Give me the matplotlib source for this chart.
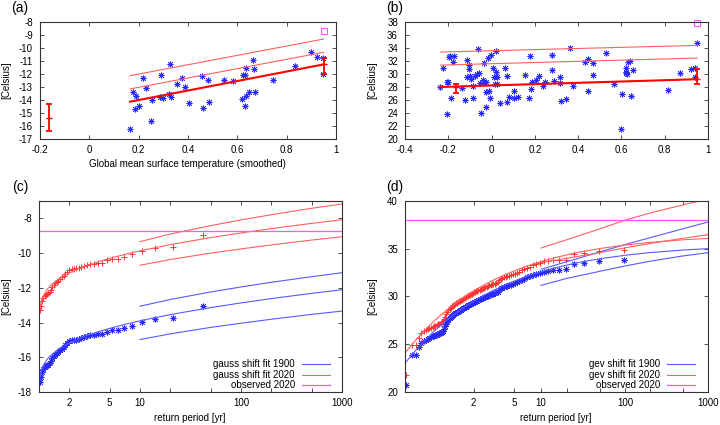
import numpy as np
import matplotlib.pyplot as plt
from matplotlib import ticker

plt.rcParams['font.family'] = ['Liberation Sans', 'DejaVu Sans']
plt.rcParams['font.size'] = 7
plt.rcParams['axes.unicode_minus'] = False

# ---- (a) scatter vs global mean temperature ----
gmst_a = [0.163, 0.177, 0.191, 0.187, 0.200, 0.218, 0.229, 0.250, 0.255, 0.291, 0.288,
          0.300, 0.329, 0.324, 0.333, 0.355, 0.376, 0.386, 0.406, 0.457, 0.461, 0.482,
          0.486, 0.545, 0.582, 0.617, 0.623, 0.631, 0.635, 0.635, 0.633, 0.648, 0.662,
          0.667, 0.671, 0.744, 0.834, 0.897, 0.923, 0.946, 0.946]
temp_a = [-16.2, -13.41, -13.67, -14.69, -14.44, -12.33, -13.10, -15.64, -14.03, -12.1, -13.74,
          -13.82, -11.23, -13.56, -13.74, -12.77, -12.33, -13.0, -14.26, -12.13, -14.59, -12.46,
          -14.13, -12.46, -12.54, -13.95, -12.05, -12.05, -11.51, -13.67, -14.44, -13.36, -10.92,
          -11.62, -13.41, -12.46, -11.38, -10.33, -10.69, -10.77, -11.97]
fit_x_a = [0.165, 0.95]
fit_mu_a = [-14.13, -11.26]
fit_s1_a = [-13.15, -10.33]
fit_s2_a = [-12.13, -9.31]
err_x_a = [-0.165, 0.95]
err_mid_a = [-15.35, -11.26]
err_lo_a = [-16.36, -12.02]
err_hi_a = [-14.33, -10.75]
obs_x_a, obs_y_a = 0.95, -8.72

# ---- (b) scatter vs global mean temperature ----
gmst_b = [-0.238, -0.223, -0.207, -0.207, -0.201, -0.196, -0.189, -0.180, -0.172, -0.135,
          -0.121, -0.112, -0.112, -0.104, -0.104, -0.101, -0.095, -0.087, -0.084, -0.076,
          -0.069, -0.062, -0.059, -0.054, -0.047, -0.039, -0.036, -0.033, -0.028, -0.024,
          -0.024, -0.015, -0.013, -0.007, -0.004, 0.007, 0.012, 0.015, 0.019, 0.021,
          0.026, 0.024, 0.039, 0.063, 0.069, 0.070, 0.081, 0.103, 0.104, 0.124,
          0.155, 0.171, 0.178, 0.180, 0.189, 0.205, 0.217, 0.238, 0.245, 0.277,
          0.279, 0.288, 0.314, 0.317, 0.322, 0.343, 0.363, 0.374, 0.431, 0.447,
          0.445, 0.467, 0.470, 0.528, 0.564, 0.601, 0.599, 0.620, 0.623, 0.626,
          0.619, 0.630, 0.640, 0.644, 0.653, 0.813, 0.871, 0.920, 0.940, 0.950,
          0.940, -0.190]
temp_b = [28.0, 30.92, 23.85, 28.82, 28.7, 32.6, 26.3, 31.85, 32.82, 27.9,
          25.95, 32.15, 29.5, 31.4, 30.7, 29.7, 29.3, 28.2, 26.36, 29.7,
          29.95, 33.8, 30.2, 28.6, 24.0, 29.13, 31.7, 28.67, 27.18, 28.82,
          24.92, 32.4, 27.4, 26.25, 32.9, 30.9, 29.5, 28.4, 33.5, 30.25,
          29.6, 28.4, 25.6, 30.9, 25.75, 29.7, 26.4, 27.4, 26.25, 26.4,
          29.85, 26.25, 32.7, 27.7, 28.82, 29.13, 29.64, 28.2, 28.82, 30.67,
          33.0, 28.97, 29.6, 28.56, 25.8, 26.15, 34.0, 28.15, 31.8, 32.3,
          27.38, 31.64, 29.85, 33.18, 28.4, 26.87, 21.5, 30.36, 30.2, 30.05,
          31.0, 31.85, 31.95, 26.6, 30.67, 27.5, 30.1, 30.8, 31.0, 34.8,
          29.6, 32.7]
fit_x_b = [-0.235, 0.95]
fit_mu_b = [28.0, 29.2]
fit_s1_b = [31.37, 32.45]
fit_s2_b = [33.38, 34.4]
err_x_b = [-0.165, 0.95]
err_mid_b = [27.95, 29.18]
err_lo_b = [27.03, 28.46]
err_hi_b = [28.42, 30.82]
obs_x_b, obs_y_b = 0.95, 37.9

# ---- (c) return periods, gauss fit ----
period_c = [1.024, 1.05, 1.077, 1.105, 1.135, 1.167, 1.2, 1.235, 1.273, 1.312, 1.355,
            1.4, 1.448, 1.5, 1.556, 1.615, 1.68, 1.75, 1.826, 1.909, 2.0, 2.1, 2.211,
            2.333, 2.471, 2.625, 2.8, 3.0, 3.231, 3.5, 3.818, 4.2, 4.667, 5.25, 6.0,
            7.0, 8.4, 10.5, 14.0, 21.0, 42.0]
obs1900_c = [-17.4, -17.15, -16.85, -16.7, -16.55, -16.5, -16.45, -16.42, -16.35, -16.2,
             -16.05, -15.95, -15.85, -15.75, -15.7, -15.6, -15.5, -15.4, -15.3, -15.2,
             -15.05, -15.03, -15.0, -14.98, -14.93, -14.9, -14.85, -14.8, -14.72, -14.7,
             -14.68, -14.65, -14.52, -14.45, -14.42, -14.31, -14.18, -13.97, -13.8, -13.74,
             -13.05]
obs2020_c = [-13.3, -13.05, -12.75, -12.6, -12.45, -12.4, -12.35, -12.3, -12.25, -12.1,
             -11.95, -11.85, -11.75, -11.65, -11.6, -11.5, -11.4, -11.3, -11.2, -11.1,
             -10.95, -10.93, -10.9, -10.88, -10.83, -10.8, -10.75, -10.7, -10.62, -10.6,
             -10.58, -10.55, -10.42, -10.35, -10.32, -10.21, -10.08, -9.87, -9.7, -9.64,
             -8.95]
fit_T_c = [1.02, 1.05, 1.1, 1.2, 1.3, 1.5, 1.7, 2, 2.5, 3, 4, 5, 7, 10, 20, 50, 100, 200, 500, 1000]
fit1900_c = [-17.21, -16.82, -16.49, -16.13, -15.90, -15.60, -15.39, -15.17, -14.92, -14.74,
             -14.50, -14.34, -14.11, -13.90, -13.54, -13.14, -12.87, -12.62, -12.32, -12.11]
fit2020_c = [-13.18, -12.79, -12.46, -12.10, -11.87, -11.57, -11.36, -11.14, -10.89, -10.71,
             -10.47, -10.31, -10.08, -9.87, -9.51, -9.11, -8.84, -8.59, -8.29, -8.08]
bound_T = [10, 20, 50, 100, 200, 500, 1000]
hi1900_c = [-13.06, -12.67, -12.24, -11.95, -11.68, -11.36, -11.13]
lo1900_c = [-14.98, -14.65, -14.28, -14.04, -13.81, -13.53, -13.34]
hi2020_c = [-9.34, -8.90, -8.42, -8.09, -7.79, -7.42, -7.17]
lo2020_c = [-10.70, -10.37, -10.00, -9.76, -9.53, -9.25, -9.06]
observed_c = -8.72

# ---- (d) return periods, gev fit ----
period_d = [1.0104, 1.0211, 1.0319, 1.043, 1.0543, 1.0659, 1.0778, 1.0899, 1.1023, 1.1149,
            1.1279, 1.1412, 1.1548, 1.1687, 1.1829, 1.1975, 1.2125, 1.2278, 1.2436, 1.2597,
            1.2763, 1.2933, 1.3108, 1.3288, 1.3472, 1.3662, 1.3857, 1.4058, 1.4265, 1.4478,
            1.4697, 1.4923, 1.5156, 1.5397, 1.5645, 1.5902, 1.6167, 1.6441, 1.6724, 1.7018,
            1.7321, 1.7636, 1.7963, 1.8302, 1.8654, 1.902, 1.94, 1.9796, 2.0208, 2.0638,
            2.1087, 2.1556, 2.2045, 2.2558, 2.3095, 2.3659, 2.425, 2.4872, 2.5526, 2.6216,
            2.6944, 2.7714, 2.8529, 2.9394, 3.0313, 3.129, 3.2333, 3.3448, 3.4643, 3.5926,
            3.7308, 3.88, 4.0417, 4.2174, 4.4091, 4.619, 4.85, 5.1053, 5.3889, 5.7059,
            6.0625, 6.4667, 6.9286, 7.4615, 8.0833, 8.8182, 9.7, 10.778, 12.125, 13.857,
            16.167, 19.4, 24.25, 32.333, 48.5, 97.0]
obs1900_d = [20.75, 23.9, 23.9, 24.7, 25.15, 25.35, 25.48, 25.58, 25.67, 25.74,
             25.82, 25.9, 25.96, 26.02, 26.08, 26.13, 26.2, 26.28, 26.4, 26.62,
             26.86, 27.12, 27.38, 27.57, 27.7, 27.84, 27.98, 28.08, 28.15, 28.22,
             28.28, 28.35, 28.42, 28.49, 28.55, 28.62, 28.68, 28.75, 28.82, 28.88,
             28.95, 29.01, 29.08, 29.15, 29.2, 29.26, 29.31, 29.37, 29.42, 29.47,
             29.53, 29.58, 29.64, 29.7, 29.75, 29.8, 29.86, 29.92, 29.98, 30.04,
             30.1, 30.16, 30.21, 30.26, 30.31, 30.36, 30.42, 30.52, 30.68, 30.84,
             30.94, 31.0, 31.06, 31.12, 31.18, 31.25, 31.32, 31.38, 31.49, 31.6,
             31.73, 31.86, 31.99, 32.13, 32.25, 32.38, 32.5, 32.57, 32.7, 32.74,
             32.8, 32.88, 33.43, 33.47, 33.75, 33.82]
obs2020_d = [21.8, 24.9, 24.9, 25.7, 26.15, 26.35, 26.48, 26.58, 26.67, 26.74,
             26.82, 26.9, 26.96, 27.02, 27.08, 27.13, 27.2, 27.28, 27.4, 27.62,
             27.86, 28.12, 28.38, 28.57, 28.7, 28.84, 28.98, 29.08, 29.15, 29.22,
             29.28, 29.35, 29.42, 29.49, 29.55, 29.62, 29.68, 29.75, 29.82, 29.88,
             29.95, 30.01, 30.08, 30.15, 30.2, 30.26, 30.31, 30.37, 30.42, 30.47,
             30.53, 30.58, 30.64, 30.7, 30.75, 30.8, 30.86, 30.92, 30.98, 31.04,
             31.1, 31.16, 31.21, 31.26, 31.31, 31.36, 31.42, 31.52, 31.68, 31.84,
             31.94, 32.0, 32.06, 32.12, 32.18, 32.25, 32.32, 32.38, 32.49, 32.6,
             32.73, 32.86, 32.99, 33.13, 33.25, 33.38, 33.5, 33.68, 33.75, 33.79,
             33.82, 33.86, 34.45, 34.52, 34.73, 34.84]
fit_T_d = [1.0104, 1.02, 1.04, 1.07, 1.1, 1.15, 1.2, 1.3, 1.4, 1.6, 1.8, 2, 2.5, 3, 4, 5,
           7, 10, 15, 20, 30, 50, 100, 200, 500, 1000]
fit1900_d = [23.13, 23.83, 24.64, 25.36, 25.85, 26.43, 26.87, 27.51, 27.98, 28.65, 29.13,
             29.51, 30.17, 30.62, 31.22, 31.62, 32.13, 32.59, 33.03, 33.29, 33.62, 33.96,
             34.32, 34.60, 34.87, 35.01]
fit2020_d = [24.20, 24.90, 25.71, 26.43, 26.92, 27.50, 27.94, 28.58, 29.05, 29.72, 30.20,
             30.58, 31.24, 31.69, 32.29, 32.69, 33.20, 33.66, 34.10, 34.36, 34.69, 35.03,
             35.39, 35.67, 35.94, 36.08]
hi1900_d = [32.85, 33.65, 34.68, 35.45, 36.16, 37.1, 37.8]
lo1900_d = [31.17, 31.9, 32.65, 33.2, 33.7, 34.25, 34.59]
hi2020_d = [35.08, 35.95, 37.1, 38.0, 38.75, 39.6, 40.2]
lo2020_d = [33.55, 34.0, 34.6, 35.1, 35.55, 36.1, 36.47]
observed_d = 38.0

BLUE = '#2a2aff'
RED = '#ff0000'
PRED = '#ff3333'
LRED = '#ff6060'
LBLUE = '#5a5aff'
MAG = '#ff55ff'
ASTER = (8, 2, 0)

W, H = 720, 425


def box(l, t, r, b):
    return [l / W, 1 - b / H, (r - l) / W, (b - t) / H]


def style(ax):
    ax.tick_params(which='both', direction='in', top=True, right=True, length=3,
                   width=0.6, labelsize=7, color='#333333')
    ax.tick_params(axis='x', pad=4)
    ax.tick_params(axis='y', pad=5)
    for s in ax.spines.values():
        s.set_linewidth(0.8)
        s.set_color('#333333')


def gumbel(t):
    t = np.asarray(t, dtype=float)
    with np.errstate(all='ignore'):
        return -np.log(-np.log(1.0 - 1.0 / t))


def gumbel_inv(u):
    u = np.asarray(u, dtype=float)
    with np.errstate(all='ignore'):
        return 1.0 / (1.0 - np.exp(-np.exp(-u)))


fmt = ticker.FuncFormatter(lambda v, p: f'{round(v, 6):g}')

fig = plt.figure(figsize=(7.2, 4.25), dpi=100)

# (a)
ax = fig.add_axes(box(40, 22, 336, 139))
style(ax)
ax.plot(gmst_a, temp_a, ls='none', marker=ASTER, ms=4.2, mew=0.6, color=BLUE)
ax.plot(fit_x_a, fit_mu_a, color=RED, lw=1.5)
ax.plot(fit_x_a, fit_s1_a, color=LRED, lw=0.8)
ax.plot(fit_x_a, fit_s2_a, color=LRED, lw=0.8)
ax.errorbar(err_x_a, err_mid_a,
            yerr=[np.subtract(err_mid_a, err_lo_a), np.subtract(err_hi_a, err_mid_a)],
            fmt='_', color=RED, ms=5, elinewidth=1.3, capsize=2.5, capthick=1.3)
ax.plot(obs_x_a, obs_y_a, ls='none', marker='s', ms=4, mfc='none', mec=MAG, mew=0.8,
        clip_on=False)
ax.set_xlim(-0.2, 1)
ax.set_ylim(-17, -8)
ax.set_xticks(np.arange(-0.2, 1.01, 0.2))
ax.set_yticks(range(-17, -7))
ax.xaxis.set_major_formatter(fmt)
fig.text(187 / W, 1 - 164 / H, 'Global mean surface temperature (smoothed)',
         ha='center', va='center', fontsize=7)

# (b)
ax = fig.add_axes(box(405, 22, 708, 139))
style(ax)
ax.plot(gmst_b, temp_b, ls='none', marker=ASTER, ms=4.2, mew=0.6, color=BLUE)
ax.plot(fit_x_b, fit_mu_b, color=RED, lw=1.5)
ax.plot(fit_x_b, fit_s1_b, color=LRED, lw=0.8)
ax.plot(fit_x_b, fit_s2_b, color=LRED, lw=0.8)
ax.errorbar(err_x_b, err_mid_b,
            yerr=[np.subtract(err_mid_b, err_lo_b), np.subtract(err_hi_b, err_mid_b)],
            fmt='_', color=RED, ms=5, elinewidth=1.3, capsize=2.5, capthick=1.3)
ax.plot(obs_x_b, obs_y_b, ls='none', marker='s', ms=4, mfc='none', mec=MAG, mew=0.8,
        clip_on=False)
ax.set_xlim(-0.4, 1)
ax.set_ylim(20, 38)
ax.set_xticks(np.arange(-0.4, 1.01, 0.2))
ax.set_yticks(range(20, 39, 2))
ax.xaxis.set_major_formatter(fmt)

rp_ticks = [2, 5, 10, 20, 50, 100, 200, 500, 1000]
rp_labels = ['2', '5', '10', '', '', '100', '', '', '1000']
leg_kw = dict(loc='lower right', frameon=False, markerfirst=False, handlelength=2.9,
              handletextpad=0.7, labelspacing=0.05, borderaxespad=0, fontsize=7)

# (c)
ax = fig.add_axes(box(39, 201, 342, 392))
style(ax)
ax.set_xscale('log')
ax.plot(period_c, obs2020_c, ls='none', marker='+', ms=4.5, mew=0.7, color=PRED)
ax.plot(period_c, obs1900_c, ls='none', marker=ASTER, ms=4.2, mew=0.6, color=BLUE)
l1, = ax.plot(fit_T_c, fit1900_c, color=LBLUE, lw=0.8, label='gauss shift fit 1900')
ax.plot(bound_T, hi1900_c, color=LBLUE, lw=0.8)
ax.plot(bound_T, lo1900_c, color=LBLUE, lw=0.8)
l2, = ax.plot(fit_T_c, fit2020_c, color=LRED, lw=0.8, label='gauss shift fit 2020')
ax.plot(bound_T, hi2020_c, color=LRED, lw=0.8)
ax.plot(bound_T, lo2020_c, color=LRED, lw=0.8)
l3 = ax.axhline(observed_c, color=MAG, lw=0.9, label='observed 2020')
ax.set_xlim(1, 1000)
ax.set_ylim(-18, -7)
ax.set_yticks(range(-18, -7, 2))
ax.set_xticks(rp_ticks)
ax.set_xticklabels(rp_labels)
ax.xaxis.set_minor_locator(ticker.NullLocator())
ax.legend(handles=[l1, l2, l3], bbox_to_anchor=(0.973, -0.012), **leg_kw)
fig.text(190 / W, 1 - 418 / H, 'return period [yr]', ha='center', va='center', fontsize=7)

# (d)
ax = fig.add_axes(box(405, 201, 708, 392))
style(ax)
ax.set_xscale('function', functions=(gumbel, gumbel_inv))
ax.plot(period_d, obs2020_d, ls='none', marker='+', ms=4.5, mew=0.7, color=PRED)
ax.plot(period_d, obs1900_d, ls='none', marker=ASTER, ms=4.2, mew=0.6, color=BLUE)
l1, = ax.plot(fit_T_d, fit1900_d, color=LBLUE, lw=0.8, label='gev shift fit 1900')
ax.plot(bound_T, hi1900_d, color=LBLUE, lw=0.8)
ax.plot(bound_T, lo1900_d, color=LBLUE, lw=0.8)
l2, = ax.plot(fit_T_d, fit2020_d, color=LRED, lw=0.8, label='gev shift fit 2020')
ax.plot(bound_T, hi2020_d, color=LRED, lw=0.8)
ax.plot(bound_T, lo2020_d, color=LRED, lw=0.8)
l3 = ax.axhline(observed_d, color=MAG, lw=0.9, label='observed 2020')
ax.set_xlim(1.0092, 1000)
ax.set_ylim(20, 40)
ax.set_yticks(range(20, 41, 5))
ax.set_xticks(rp_ticks)
ax.set_xticklabels(rp_labels)
ax.xaxis.set_minor_locator(ticker.NullLocator())
ax.legend(handles=[l1, l2, l3], bbox_to_anchor=(0.970, -0.012), **leg_kw)
fig.text(556 / W, 1 - 418 / H, 'return period [yr]', ha='center', va='center', fontsize=7)

# y labels and panel letters
for x, y in [(6, 80), (372, 80), (6, 296), (372, 296)]:
    fig.text(x / W, 1 - y / H, '[Celsius]', rotation=90, ha='center', va='center', fontsize=7)
for x, y, s in [(11, 8, '(a)'), (386, 8, '(b)'), (12, 187, '(c)'), (386, 187, '(d)')]:
    fig.text(x / W, 1 - y / H, s, ha='left', va='center', fontsize=10)

fig.savefig('out.png', dpi=100)
